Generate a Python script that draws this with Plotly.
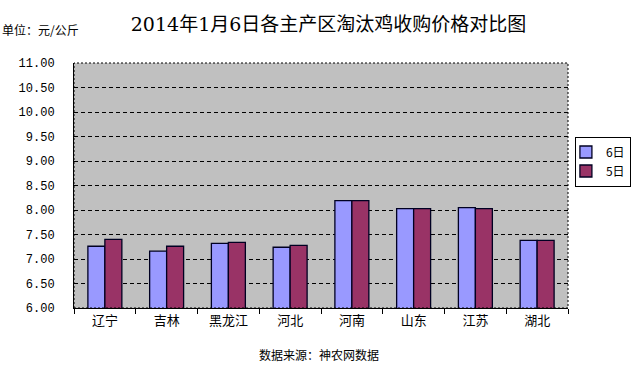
import plotly.graph_objects as go

categories = ["辽宁", "吉林", "黑龙江", "河北", "河南", "山东", "江苏", "湖北"]
day6 = [7.26, 7.16, 7.32, 7.24, 8.19, 8.03, 8.05, 7.38]
day5 = [7.40, 7.26, 7.34, 7.28, 8.19, 8.03, 8.03, 7.38]
y_ticks = [6.0, 6.5, 7.0, 7.5, 8.0, 8.5, 9.0, 9.5, 10.0, 10.5, 11.0]

FONT = "Noto Sans CJK SC"

fig = go.Figure()
fig.add_trace(go.Bar(x=categories, y=day6, name="6日",
                     marker=dict(color="#9999FF", line=dict(color="#000022", width=1.3))))
fig.add_trace(go.Bar(x=categories, y=day5, name="5日",
                     marker=dict(color="#993366", line=dict(color="#000022", width=1.3))))

fig.update_layout(
    width=638, height=369,
    margin=dict(l=74, r=70, t=63, b=61, autoexpand=False),
    paper_bgcolor="white",
    plot_bgcolor="#C0C0C0",
    barmode="group",
    bargap=0.45,
    bargroupgap=0,
    font=dict(family=FONT, size=12, color="black"),
    title=dict(text="2014年1月6日各主产区淘汰鸡收购价格对比图",
               x=0.515, xanchor="center", y=0.935, yanchor="middle",
               font=dict(family="DejaVu Serif, " + FONT, size=19, color="black")),
    showlegend=True,
    legend=dict(x=1.014, y=0.70, xanchor="left", yanchor="top",
                bordercolor="black", borderwidth=1, bgcolor="white",
                font=dict(size=12), traceorder="normal", indentation=-10,
                itemwidth=30, tracegroupgap=2),
    xaxis=dict(showgrid=False, showline=True, linecolor="black", linewidth=1,
               ticks="outside", tickson="boundaries", ticklen=5, tickcolor="black",
               tickfont=dict(size=13)),
    yaxis=dict(range=[6, 11], tickvals=y_ticks,
               ticktext=[f"{v:.2f}" for v in y_ticks],
               showgrid=True, gridcolor="black", griddash="4px,3px", gridwidth=1,
               showline=True, linecolor="black", linewidth=1,
               ticks="", ticklabelstandoff=16,
               tickfont=dict(family="Liberation Mono, DejaVu Sans Mono", size=12),
               zeroline=False),
    shapes=[dict(type="rect", xref="paper", yref="paper", x0=0, x1=1, y0=0, y1=1,
                 line=dict(color="black", width=1, dash="2px,2px"), layer="above")],
    annotations=[
        dict(text="单位：元/公斤", xref="paper", yref="paper", x=-0.15, y=1.135,
             xanchor="left", yanchor="middle", showarrow=False, font=dict(size=12)),
        dict(text="数据来源：神农网数据", xref="paper", yref="paper", x=0.495, y=-0.19,
             xanchor="center", yanchor="middle", showarrow=False, font=dict(size=12)),
    ],
)

fig.write_html("out.html", config={"displayModeBar": False},
               post_script="document.body.style.margin='0';")
